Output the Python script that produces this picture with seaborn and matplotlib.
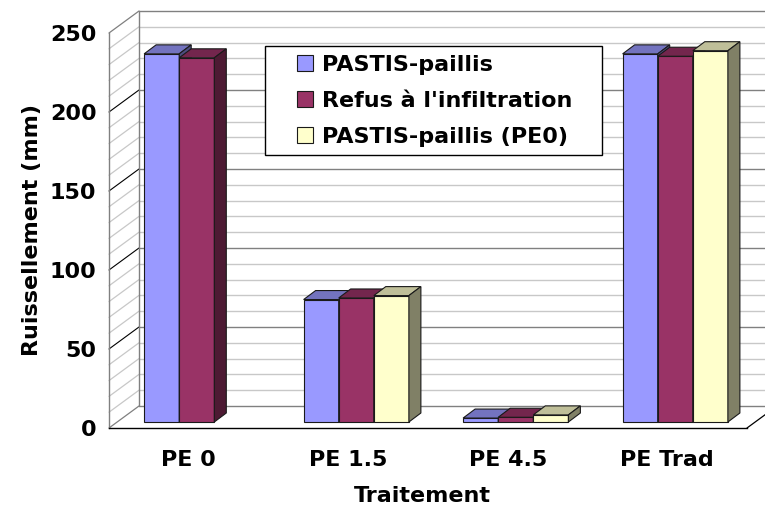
import numpy as np
import pandas as pd
import matplotlib
matplotlib.use("Agg")
import matplotlib.pyplot as plt
import seaborn as sns
from matplotlib.patches import Polygon, Rectangle, Patch
from matplotlib.colors import to_rgb

# ---- data -------------------------------------------------------------
categories = ["PE 0", "PE 1.5", "PE 4.5", "PE Trad"]
series = ["PASTIS-paillis", "Refus à l'infiltration", "PASTIS-paillis (PE0)"]
pastis_paillis = [233.0, 77.5, 2.5, 233.0]
refus_infiltration = [230.5, 78.5, 3.0, 231.5]
pastis_paillis_pe0 = [np.nan, 80.0, 4.5, 235.0]
y_ticks = [0, 50, 100, 150, 200, 250]

colors = ["#9999FF", "#993366", "#FFFFCC"]

rows = []
for name, vals in zip(series, [pastis_paillis, refus_infiltration, pastis_paillis_pe0]):
    for cat, v in zip(categories, vals):
        if not np.isnan(v):
            rows.append({"Traitement": cat, "serie": name, "value": v})
df = pd.DataFrame(rows)

# ---- style ------------------------------------------------------------
sns.set_style("white")
plt.rcParams["font.family"] = ["DejaVu Sans"]
plt.rcParams["font.weight"] = "bold"
plt.rcParams["axes.labelweight"] = "bold"
plt.rcParams["text.color"] = "black"
plt.rcParams["axes.labelcolor"] = "black"
plt.rcParams["xtick.color"] = "black"
plt.rcParams["ytick.color"] = "black"
FS = 16

W, H = 765, 508
fig = plt.figure(figsize=(W / 100, H / 100), dpi=100)
ax = fig.add_axes([109 / W, 80 / H, 638 / W, 395 / H])
ax.set_facecolor("white")

sns.barplot(data=df, x="Traitement", y="value", hue="serie",
            order=categories, hue_order=series, palette=colors,
            saturation=1, width=0.66, dodge=True, errorbar=None,
            edgecolor="#1a1a1a", linewidth=0.8, legend=False, ax=ax)

ax.set_xlim(-0.5, len(categories) - 0.5)
ax.set_ylim(0, 250)


def px2data(px, py):
    inv = ax.transData.inverted()
    x0, y0 = inv.transform((0, 0))
    x1, y1 = inv.transform((px, py))
    return x1 - x0, y1 - y0


# pseudo-3D depth offsets (pixels -> data units)
bdx, bdy = px2data(8, 6)      # bar front plane
ddx, ddy = px2data(12, 9)     # bar depth
wdx, wdy = px2data(30, 22)    # back wall

x_left, x_right = ax.get_xlim()

# ---- walls and grid ---------------------------------------------------
for v in range(0, 251, 10):
    major = v % 50 == 0
    ax.plot([x_left + wdx, x_right + wdx + 1], [v + wdy, v + wdy],
            color="#808080" if major else "#c8c8c8", lw=1.0,
            clip_on=False, zorder=0.5)
    if major and 0 < v < 250:
        dcol, dlw = "#000000", 0.8
    elif major:
        dcol, dlw = "#808080", 0.9
    else:
        dcol, dlw = "#c8c8c8", 0.9
    ax.plot([x_left, x_left + wdx], [v, v + wdy], color=dcol, lw=dlw,
            clip_on=False, zorder=0.5)

ax.plot([x_left + wdx, x_left + wdx], [wdy, 250 + wdy], color="#808080",
        lw=1.0, clip_on=False, zorder=0.6)
ax.plot([x_right, x_right + wdx], [0, wdy], color="#000000", lw=0.9,
        clip_on=False, zorder=0.6)


# ---- bars with top and side faces -------------------------------------
def shade(c, f):
    r, g, b = to_rgb(c)[:3]
    return (r * f, g * f, b * f)


bars = [p for p in ax.patches if isinstance(p, Rectangle)
        and np.isfinite(p.get_height()) and p.get_height() > 0]
bars.sort(key=lambda p: p.get_x())
for i, p in enumerate(bars):
    x, w, h = p.get_x(), p.get_width(), p.get_height()
    fc = p.get_facecolor()
    z = 3 + 0.01 * i
    p.set_x(x + bdx)
    p.set_y(bdy)
    p.set_zorder(z)
    p.set_clip_on(False)
    xf, yb, yt = x + bdx, bdy, h + bdy
    top = Polygon([(xf, yt), (xf + w, yt), (xf + w + ddx, yt + ddy),
                   (xf + ddx, yt + ddy)], closed=True,
                  facecolor=shade(fc, 0.75), edgecolor="#1a1a1a",
                  lw=0.8, joinstyle="miter", zorder=z + 0.001, clip_on=False)
    side = Polygon([(xf + w, yb), (xf + w + ddx, yb + ddy),
                    (xf + w + ddx, yt + ddy), (xf + w, yt)], closed=True,
                   facecolor=shade(fc, 0.5), edgecolor="#1a1a1a",
                   lw=0.8, joinstyle="miter", zorder=z + 0.002, clip_on=False)
    ax.add_patch(top)
    ax.add_patch(side)

# ---- axes -------------------------------------------------------------
for s in ["top", "right"]:
    ax.spines[s].set_visible(False)
ax.spines["left"].set_color("#808080")
ax.spines["left"].set_linewidth(1.0)
ax.spines["bottom"].set_color("#000000")
ax.spines["bottom"].set_linewidth(1.0)
ax.spines["left"].set_zorder(0.7)
ax.spines["bottom"].set_zorder(0.7)

ax.set_yticks(y_ticks)
ax.set_yticklabels([str(t) for t in y_ticks])
ax.set_xticks(range(len(categories)))
ax.set_xticklabels(categories)
ax.set_xticks(np.arange(-0.5, len(categories), 1.0), minor=True)
ax.tick_params(axis="y", which="major", length=5, width=1, color="#000000",
               direction="out", labelsize=FS, pad=4)
ax.tick_params(axis="x", which="major", length=0, labelsize=FS, pad=16.2)
ax.tick_params(axis="x", which="minor", length=8, width=1, color="#000000",
               direction="out")

ax.set_xlabel("Traitement", fontsize=FS, fontweight="bold")
ax.set_ylabel("Ruissellement (mm)", fontsize=FS, fontweight="bold")
ax.xaxis.set_label_coords((422 - 109) / 638, (508 - 486 - 80) / 395)
ax.yaxis.set_label_coords((42 - 109) / 638, (508 - 230 - 80) / 395)

# ---- legend -----------------------------------------------------------
frame = Rectangle((265 / W, (H - 155) / H), 337 / W, 109 / H,
                  transform=fig.transFigure, facecolor="white",
                  edgecolor="#000000", lw=1.0, zorder=4)
fig.add_artist(frame)
handles = [Patch(facecolor=c, edgecolor="#1a1a1a", lw=0.8) for c in colors]
fig.legend(handles, series, loc="upper left",
           bbox_to_anchor=(297 / W, (H - 55) / H), bbox_transform=fig.transFigure,
           frameon=False, borderpad=0, borderaxespad=0,
           handlelength=0.73, handleheight=0.73, handletextpad=0.4,
           labelspacing=0.72, prop={"size": FS, "weight": "bold"})

fig.savefig("out.png", dpi=100)
